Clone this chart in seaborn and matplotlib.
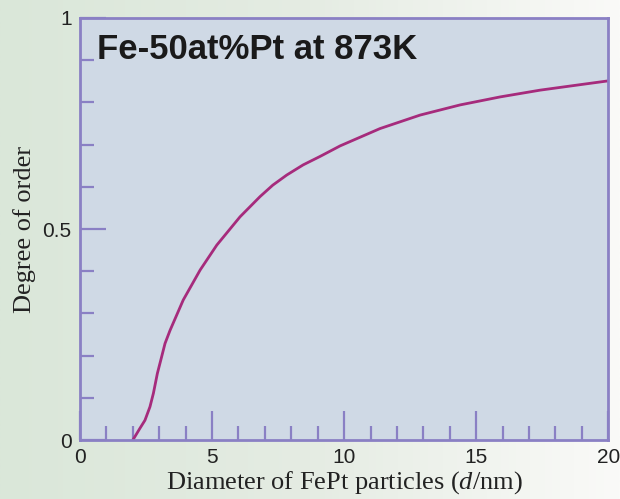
import numpy as np
import pandas as pd
import seaborn as sns
import matplotlib.pyplot as plt
from matplotlib.colors import LinearSegmentedColormap
from matplotlib.ticker import MultipleLocator

# curve
diameter = [2.0, 2.27, 2.46, 2.65, 2.78, 2.93, 3.09, 3.22, 3.41, 3.91, 4.55, 5.18,
            6.06, 6.82, 7.3, 7.83, 8.45, 9.09, 9.85, 11.36, 12.88, 14.39, 15.91,
            17.42, 18.94, 20.0]
order = [0.0, 0.028, 0.047, 0.079, 0.111, 0.158, 0.197, 0.229, 0.26, 0.332, 0.403, 0.462,
         0.529, 0.577, 0.604, 0.628, 0.652, 0.672, 0.697, 0.738, 0.770, 0.794, 0.813,
         0.829, 0.842, 0.851]
x_ticks = [0, 5, 10, 15, 20]
y_ticks = [0, 0.5, 1]
y_ticklabels = ["0", "0.5", "1"]
title = "Fe-50at%Pt at 873K"

df = pd.DataFrame({"d": diameter, "order": order})

sns.set_style("white")
plt.rcParams['font.family'] = ['Liberation Sans', 'DejaVu Sans']
plt.rcParams['mathtext.fontset'] = 'custom'
plt.rcParams['mathtext.it'] = 'Liberation Serif:italic'
plt.rcParams['mathtext.rm'] = 'Liberation Serif'

purple = '#8a80c4'
curve = '#a62b7c'

fig = plt.figure(figsize=(6.2, 4.99), dpi=100)

# greenish-to-white background
bg = fig.add_axes([0, 0, 1, 1], zorder=-1)
cmap = LinearSegmentedColormap.from_list("bg", ['#dae7d9', '#e5ece3', '#fafaf8'])
bg.imshow(np.linspace(0, 1, 256).reshape(1, -1), aspect='auto', cmap=cmap,
          extent=[0, 1, 0, 1])
bg.axis('off')

ax = fig.add_axes([0.129, 0.118, 0.852, 0.846])
ax.set_facecolor('#cfd9e5')
sns.lineplot(data=df, x="d", y="order", ax=ax, color=curve, linewidth=2)

ax.set_xlim(0, 20)
ax.set_ylim(0, 1)
ax.set_xticks(x_ticks)
ax.set_xticklabels([str(t) for t in x_ticks])
ax.set_yticks(y_ticks)
ax.set_yticklabels(y_ticklabels)
ax.xaxis.set_minor_locator(MultipleLocator(1))
ax.yaxis.set_minor_locator(MultipleLocator(0.1))

for s in ax.spines.values():
    s.set_color(purple)
    s.set_linewidth(2)

ax.tick_params(bottom=True, left=True, which='both')
ax.tick_params(axis='x', which='major', direction='in', length=21, width=1.6,
               color=purple, labelsize=15, pad=6, labelcolor='#222222')
ax.tick_params(axis='y', which='major', direction='in', length=19, width=1.6,
               color=purple, labelsize=15, pad=6, labelcolor='#222222')
ax.tick_params(which='minor', direction='in', length=10, width=1.6, color=purple)

ax.set_xlabel("Diameter of FePt particles ($\\it{d}$/nm)", family='Liberation Serif',
              fontsize=19, color='#222222', labelpad=1)
ax.set_ylabel("Degree of order", family='Liberation Serif', fontsize=19,
              color='#222222', labelpad=5)

ax.text(0.032, 0.965, title, transform=ax.transAxes, ha='left', va='top',
        fontsize=25, fontweight='bold', color='#1a1a1a')

fig.savefig("out.png", dpi=100)
